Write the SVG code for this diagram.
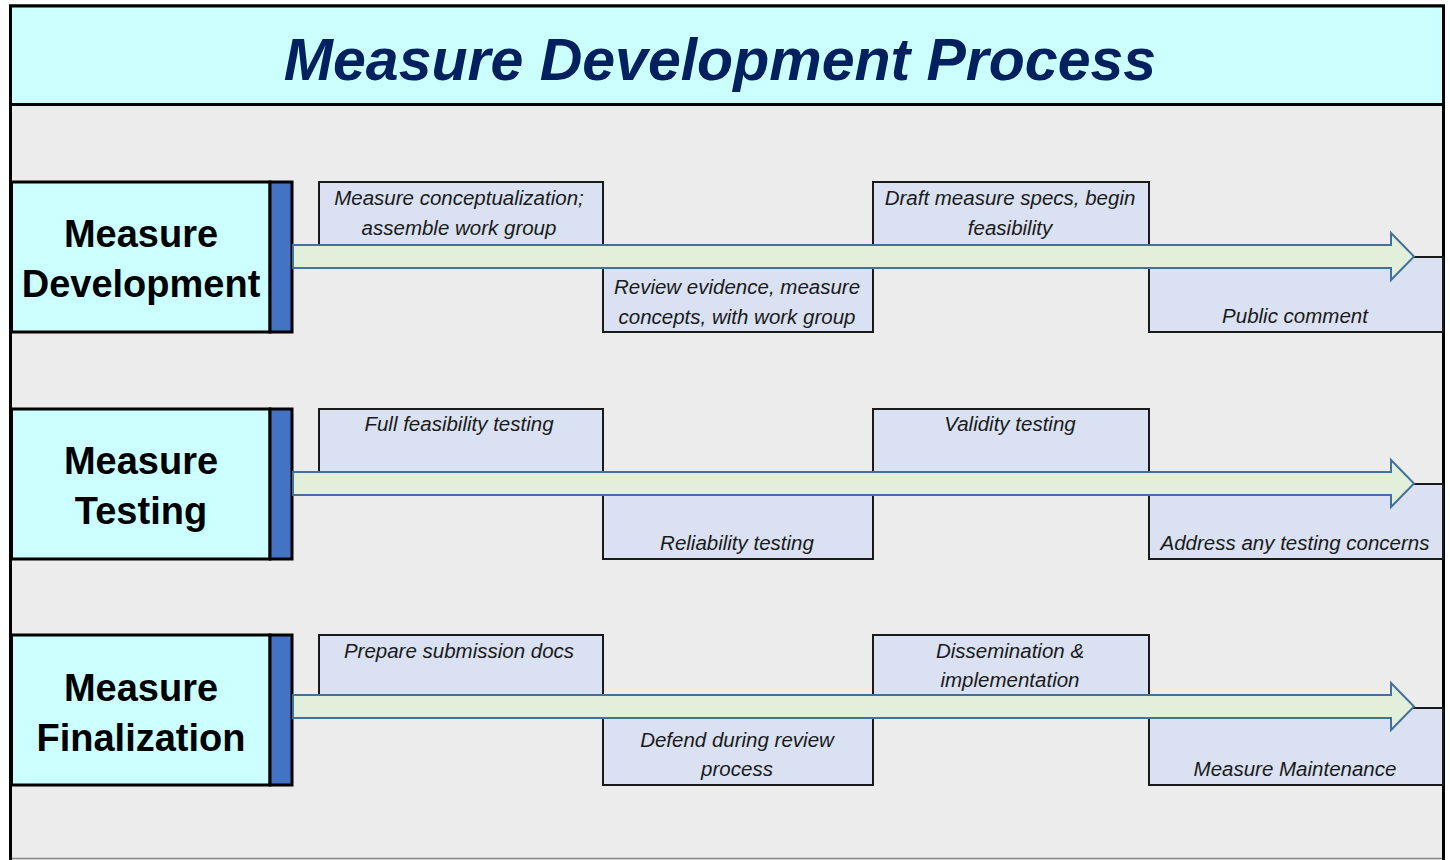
<svg xmlns="http://www.w3.org/2000/svg" width="1450" height="860" viewBox="0 0 1450 860">
<style>
.frame{fill:#ECECEC;stroke:#000;stroke-width:3}
.title-band{fill:#CCFFFF;stroke:#000;stroke-width:3}
.title{font-family:"Liberation Sans",Arial,sans-serif;font-weight:bold;font-style:italic;font-size:59px;fill:#002060;text-anchor:middle}
.lbl{fill:#CCFFFF;stroke:#000;stroke-width:3}
.bar{fill:#4472C4;stroke:#000;stroke-width:3}
.lbl-t{font-family:"Liberation Sans",Arial,sans-serif;font-weight:bold;font-size:38px;fill:#000;text-anchor:middle}
.box{fill:#D9E1F2;stroke:#1a1a1a;stroke-width:2}
.box-t{font-family:"Liberation Sans",Arial,sans-serif;font-style:italic;font-size:20.5px;fill:#1a1a1a;text-anchor:middle}
.arrow{fill:#E2EFDA;stroke:#41719C;stroke-width:2;stroke-linejoin:miter}
</style>
<rect x="0" y="0" width="1450" height="860" fill="#fff"/>
<rect class="frame" x="10.5" y="6" width="1433" height="870"/>
<line x1="12" y1="858.5" x2="1442" y2="858.5" stroke="#888" stroke-width="1.5"/>
<g id="title">
<rect class="title-band" x="10.5" y="6" width="1433" height="98.5"/>
<text class="title" x="720" y="80">Measure Development Process</text>
</g>

<!-- Row 1 -->
<g id="lane-development">
<rect class="lbl" x="11.5" y="182" width="258.5" height="150"/>
<rect class="bar" x="270" y="182" width="22" height="150"/>
<text class="lbl-t" x="141" y="247">Measure</text>
<text class="lbl-t" x="141" y="297">Development</text>
</g>
<g id="dev-1">
<rect class="box" x="319" y="182" width="284" height="70"/>
<text class="box-t" x="459" y="205">Measure conceptualization;</text>
<text class="box-t" x="459" y="235">assemble work group</text>
</g>
<g id="dev-2">
<rect class="box" x="603" y="262" width="270" height="70"/>
<text class="box-t" x="737" y="294">Review evidence, measure</text>
<text class="box-t" x="737" y="324">concepts, with work group</text>
</g>
<g id="dev-3">
<rect class="box" x="873" y="182" width="276" height="70"/>
<text class="box-t" x="1010" y="205">Draft measure specs, begin</text>
<text class="box-t" x="1010" y="235">feasibility</text>
</g>
<g id="dev-4">
<rect class="box" x="1149" y="257" width="294" height="75"/>
<text class="box-t" x="1295" y="323">Public comment</text>
</g>

<!-- Row 2 -->
<g id="lane-testing">
<rect class="lbl" x="11.5" y="409" width="258.5" height="150"/>
<rect class="bar" x="270" y="409" width="22" height="150"/>
<text class="lbl-t" x="141" y="474">Measure</text>
<text class="lbl-t" x="141" y="524">Testing</text>
</g>
<g id="test-1">
<rect class="box" x="319" y="409" width="284" height="70"/>
<text class="box-t" x="459" y="431">Full feasibility testing</text>
</g>
<g id="test-2">
<rect class="box" x="603" y="489" width="270" height="70"/>
<text class="box-t" x="737" y="550">Reliability testing</text>
</g>
<g id="test-3">
<rect class="box" x="873" y="409" width="276" height="70"/>
<text class="box-t" x="1010" y="431">Validity testing</text>
</g>
<g id="test-4">
<rect class="box" x="1149" y="484" width="294" height="75"/>
<text class="box-t" x="1295" y="550">Address any testing concerns</text>
</g>

<!-- Row 3 -->
<g id="lane-finalization">
<rect class="lbl" x="11.5" y="635" width="258.5" height="150"/>
<rect class="bar" x="270" y="635" width="22" height="150"/>
<text class="lbl-t" x="141" y="701">Measure</text>
<text class="lbl-t" x="141" y="751">Finalization</text>
</g>
<g id="fin-1">
<rect class="box" x="319" y="635" width="284" height="70"/>
<text class="box-t" x="459" y="658">Prepare submission docs</text>
</g>
<g id="fin-2">
<rect class="box" x="603" y="712" width="270" height="73"/>
<text class="box-t" x="737" y="747">Defend during review</text>
<text class="box-t" x="737" y="776">process</text>
</g>
<g id="fin-3">
<rect class="box" x="873" y="635" width="276" height="70"/>
<text class="box-t" x="1010" y="658">Dissemination &amp;</text>
<text class="box-t" x="1010" y="687">implementation</text>
</g>
<g id="fin-4">
<rect class="box" x="1149" y="708" width="294" height="77"/>
<text class="box-t" x="1295" y="776">Measure Maintenance</text>
</g>

<g id="connectors">
<polygon class="arrow" points="293,245 1391,245 1391,233 1414,256.5 1391,280 1391,268 293,268"/>
<polygon class="arrow" points="293,472 1391,472 1391,460 1414,483.5 1391,507 1391,495 293,495"/>
<polygon class="arrow" points="293,695 1391,695 1391,683 1414,706.5 1391,730 1391,718 293,718"/>
</g>
</svg>
